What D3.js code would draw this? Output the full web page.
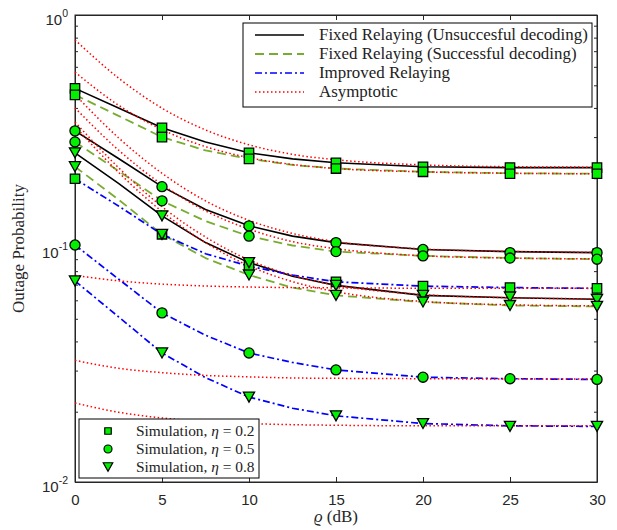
<!DOCTYPE html>
<html><head><meta charset="utf-8">
<script src="https://cdn.jsdelivr.net/npm/d3@7"></script>
<style>body{margin:0;background:#fff}</style>
</head><body><svg id="c" width="617" height="530"></svg>
<script>
// ---------- data ----------
const xTicks = [0,5,10,15,20,25,30];
const yMajorTicks = [0.01,0.1,1];
const yTickExp = ["-2","-1","0"];
const rhoTheory = [0,2.5,5,7.5,10,12.5,15,20,25,30];
const rhoSim = [0,5,10,15,20,25,30];

// theory curves
const fixedUnsucc02 = [0.485,0.400,0.329,0.286,0.257,0.242,0.233,0.224,0.222,0.222];
const fixedSucc02   = [0.455,0.370,0.300,0.263,0.242,0.228,0.220,0.213,0.210,0.209];
const fixedUnsucc05 = [0.319,0.243,0.184,0.147,0.125,0.113,0.106,0.099,0.097,0.096];
const fixedSucc05   = [0.286,0.215,0.160,0.131,0.113,0.103,0.097,0.093,0.091,0.090];
const fixedUnsucc08 = [0.257,0.190,0.138,0.106,0.087,0.076,0.0695,0.063,0.0615,0.0606];
const fixedSucc08   = [0.224,0.162,0.115,0.091,0.077,0.068,0.063,0.059,0.057,0.0565];
const improved02    = [0.199,0.152,0.115,0.095,0.084,0.077,0.072,0.069,0.068,0.0675];
const improved05    = [0.1035,0.074,0.053,0.0425,0.0357,0.0325,0.0302,0.0281,0.0277,0.0275];
const improved08    = [0.0726,0.051,0.0357,0.028,0.0231,0.0207,0.0192,0.0178,0.0174,0.0173];

// asymptotic curves
const asymFU02 = [0.782,0.537,0.399,0.322,0.278,0.253,0.240,0.228,0.224,0.223];
const asymFS02 = [0.569,0.411,0.323,0.273,0.245,0.229,0.220,0.213,0.210,0.209];
const asymFU05 = [0.456,0.298,0.210,0.160,0.132,0.116,0.107,0.0996,0.0971,0.0964];
const asymFS05 = [0.400,0.264,0.188,0.145,0.121,0.107,0.0998,0.0931,0.0910,0.0903];
const asymFU08 = [0.348,0.222,0.151,0.112,0.0893,0.0767,0.0697,0.0635,0.0615,0.0609];
const asymFS08 = [0.334,0.212,0.144,0.106,0.0842,0.0721,0.0653,0.0593,0.0574,0.0568];
const asymIR02 = [0.0767,0.0727,0.0704,0.0691,0.0684,0.0680,0.0678,0.0676,0.0675,0.0675];
const asymIR05 = [0.0332,0.0307,0.0294,0.0286,0.0282,0.0279,0.0278,0.0277,0.0276,0.0276];
const asymIR08 = [0.0218,0.0199,0.0188,0.0182,0.0178,0.0176,0.0175,0.0174,0.0174,0.0174];

// simulation points
const simFU02 = [0.485,0.329,0.257,0.233,0.224,0.222,0.222];
const simFS02 = [0.455,0.300,0.242,0.220,0.213,0.209,0.209];
const simIR02 = [0.199,0.115,0.084,0.072,0.069,0.068,0.0675];
const simFU05 = [0.319,0.184,0.125,0.106,0.099,0.096,0.096];
const simFS05 = [0.286,0.160,0.113,0.097,0.093,0.091,0.090];
const simIR05 = [0.1035,0.053,0.0357,0.0302,0.0281,0.0277,0.0275];
const simFU08 = [0.257,0.138,0.087,0.0695,0.063,0.062,0.0606];
const simFS08 = [0.224,0.115,0.077,0.063,0.059,0.057,0.0565];
const simIR08 = [0.0726,0.0357,0.0231,0.0192,0.0178,0.0173,0.0173];

const legendLines = ["Fixed Relaying (Unsuccesful decoding)","Fixed Relaying (Successful decoding)","Improved Relaying","Asymptotic"];
const legendEta = ["0.2","0.5","0.8"];

// ---------- styles ----------
const AX = "#262626";
const GREEN_LINE = "#77ac30";
const MARK_FILL = "#00f000";
const styles = {
  fu:{stroke:"#000", dash:null, w:1.6},
  fs:{stroke:GREEN_LINE, dash:"9,5", w:1.8},
  ir:{stroke:"#0000ff", dash:"7,3,2,3", w:1.7},
  as:{stroke:"#ff0000", dash:"1.5,2.5", w:1.5}
};

const svg = d3.select("#c");
const L=75,R=597,T=15,B=482;
const x = d3.scaleLinear().domain([0,30]).range([L,R]);
const y = d3.scaleLog().domain([0.01,1]).range([B,T]);

// ---------- axes ----------
const minorTicks = [];
[0.01,0.1].forEach(d=>{for(let k=2;k<=9;k++) minorTicks.push(d*k);});
function styleAxis(g){ g.select(".domain").attr("stroke",AX); g.selectAll(".tick line").attr("stroke",AX); g.selectAll("text").attr("fill",AX);}
svg.append("rect").attr("x",L).attr("y",T).attr("width",R-L).attr("height",B-T).attr("fill","none").attr("stroke",AX).attr("stroke-width",1);

const gx = svg.append("g").attr("transform",`translate(0,${B})`)
  .call(d3.axisBottom(x).tickValues(xTicks).tickSize(-5).tickSizeOuter(0).tickPadding(12).tickFormat(d3.format("d")))
  .attr("font-family","'Liberation Sans',Arial,sans-serif").attr("font-size",15);
styleAxis(gx);
const gxt = svg.append("g").attr("transform",`translate(0,${T})`)
  .call(d3.axisTop(x).tickValues(xTicks).tickSize(-5).tickSizeOuter(0).tickFormat(""));
styleAxis(gxt);
[[d3.axisLeft,L],[d3.axisRight,R]].forEach(([ax,pos])=>{
  const g1 = svg.append("g").attr("transform",`translate(${pos},0)`)
    .call(ax(y).tickValues(yMajorTicks).tickSize(-5).tickSizeOuter(0).tickFormat(""));
  styleAxis(g1);
  const g2 = svg.append("g").attr("transform",`translate(${pos},0)`)
    .call(ax(y).tickValues(minorTicks).tickSize(-3).tickSizeOuter(0).tickFormat(""));
  styleAxis(g2); g2.select(".domain").remove();
});
// y tick labels (10^k)
yMajorTicks.forEach((v,i)=>{
  const t = svg.append("text").attr("x",68).attr("y",y(v)+9.5).attr("text-anchor","end")
    .attr("font-family","'Liberation Sans',Arial,sans-serif").attr("font-size",15).attr("fill",AX);
  t.append("tspan").text("10");
  t.append("tspan").attr("dy",-8).attr("font-size",10.5).text(yTickExp[i]);
});

// axis titles
svg.append("text").attr("transform",`translate(24,${(T+B)/2}) rotate(-90)`).attr("text-anchor","middle")
  .attr("font-family","'Liberation Serif','Times New Roman',serif").attr("font-size",17).attr("fill",AX)
  .text("Outage Probability");
const xl = svg.append("text").attr("x",(L+R)/2).attr("y",522).attr("text-anchor","middle")
  .attr("font-family","'Liberation Serif','Times New Roman',serif").attr("font-size",17).attr("fill",AX);
xl.append("tspan").attr("font-style","italic").text("ϱ");
xl.append("tspan").text(" (dB)");

// ---------- curves ----------
const lineLin = d3.line().x((d,i)=>x(rhoTheory[i])).y(d=>y(d));
const lineSmooth = d3.line().x((d,i)=>x(rhoTheory[i])).y(d=>y(d)).curve(d3.curveMonotoneX);
function draw(data, st, gen){
  svg.append("path").datum(data).attr("d",gen).attr("fill","none")
    .attr("stroke",st.stroke).attr("stroke-width",st.w)
    .attr("stroke-dasharray",st.dash).attr("stroke-linejoin","round");
}
[fixedUnsucc02,fixedUnsucc05,fixedUnsucc08].forEach(d=>draw(d,styles.fu,lineLin));
[fixedSucc02,fixedSucc05,fixedSucc08].forEach(d=>draw(d,styles.fs,lineLin));
[improved02,improved05,improved08].forEach(d=>draw(d,styles.ir,lineLin));
[asymFU02,asymFS02,asymFU05,asymFS05,asymFU08,asymFS08,asymIR02,asymIR05,asymIR08].forEach(d=>draw(d,styles.as,lineSmooth));

// ---------- markers ----------
const sq = d3.symbol().type(d3.symbolSquare).size(88);
const ci = d3.symbol().type(d3.symbolCircle).size(80);
function tri(cx,cy,s){const w=5.6*s,h=5*s;return `M${cx-w},${cy-h}L${cx+w},${cy-h}L${cx},${cy+h}Z`;}
function markers(data, kind){
  const g = svg.append("g");
  data.forEach((v,i)=>{
    const cx=x(rhoSim[i]), cy=y(v);
    let p;
    if(kind==="sq") p=g.append("path").attr("d",sq()).attr("transform",`translate(${cx},${cy})`);
    else if(kind==="ci") p=g.append("path").attr("d",ci()).attr("transform",`translate(${cx},${cy})`);
    else p=g.append("path").attr("d",tri(cx,cy,1));
    p.attr("fill",MARK_FILL).attr("stroke","#000").attr("stroke-width",1.3);
  });
}
[simFU02,simFS02,simIR02].forEach(d=>markers(d,"sq"));
[simFU05,simFS05,simIR05].forEach(d=>markers(d,"ci"));
[simFU08,simFS08,simIR08].forEach(d=>markers(d,"tri"));

// ---------- legend 1 ----------
const lg = svg.append("g");
lg.append("rect").attr("x",243).attr("y",23).attr("width",349).attr("height",84).attr("fill","#fff").attr("stroke","#000").attr("stroke-width",1);
[styles.fu,styles.fs,styles.ir,styles.as].forEach((st,i)=>{
  const yy = 35+i*19;
  lg.append("line").attr("x1",255).attr("x2",304).attr("y1",yy).attr("y2",yy)
    .attr("stroke",st.stroke).attr("stroke-width",st.w).attr("stroke-dasharray",st.dash);
  lg.append("text").attr("x",319).attr("y",yy+5).attr("font-family","'Liberation Serif','Times New Roman',serif")
    .attr("font-size",16.9).attr("fill","#222").text(legendLines[i]);
});
// ---------- legend 2 ----------
const lg2 = svg.append("g");
lg2.append("rect").attr("x",79).attr("y",419).attr("width",180).attr("height",59).attr("fill","#fff").attr("stroke","#000").attr("stroke-width",1);
["sq","ci","tri"].forEach((k,i)=>{
  const yy = 431+i*18, cx=108;
  let p;
  if(k==="sq") p=lg2.append("path").attr("d",d3.symbol().type(d3.symbolSquare).size(42)()).attr("transform",`translate(${cx},${yy})`);
  else if(k==="ci") p=lg2.append("path").attr("d",d3.symbol().type(d3.symbolCircle).size(50)()).attr("transform",`translate(${cx},${yy})`);
  else p=lg2.append("path").attr("d",tri(cx,yy,0.85));
  p.attr("fill",MARK_FILL).attr("stroke","#000").attr("stroke-width",1.2);
  const t = lg2.append("text").attr("x",136).attr("y",yy+5).attr("font-family","'Liberation Serif','Times New Roman',serif")
    .attr("font-size",15.4).attr("fill","#222");
  t.append("tspan").text("Simulation, ");
  t.append("tspan").attr("font-style","italic").text("η");
  t.append("tspan").text(" = "+legendEta[i]);
});
</script></body></html>
